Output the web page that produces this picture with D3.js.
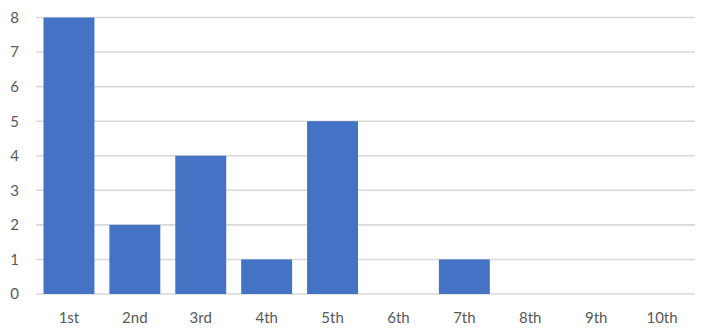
<!DOCTYPE html>
<html><head><meta charset="utf-8">
<script src="https://cdn.jsdelivr.net/npm/d3@7"></script>
<style>body{margin:0;background:#fff}</style>
</head><body>
<script>
const categories = ["1st","2nd","3rd","4th","5th","6th","7th","8th","9th","10th"];
const values = [8,2,4,1,5,0,1,0,0,0];
const yTicks = [0,1,2,3,4,5,6,7,8];

const W = 702, H = 334;
const m = {left: 36, right: 7, top: 17.5, bottom: 40};
const svg = d3.select("body").append("svg").attr("width", W).attr("height", H);
const x = d3.scaleBand().domain(categories).range([m.left, W - m.right]).paddingInner(0.227).paddingOuter(0.1135);
const y = d3.scaleLinear().domain([0, 8]).range([H - m.bottom, m.top]);

const font = "Lato, 'Open Sans', sans-serif";
svg.append("g").selectAll("line").data(yTicks).join("line")
  .attr("x1", m.left).attr("x2", W - m.right)
  .attr("y1", d => y(d)).attr("y2", d => y(d))
  .attr("stroke", "#d9d9d9").attr("stroke-width", 1.6);

svg.append("g").selectAll("rect").data(values).join("rect")
  .attr("x", (d, i) => x(categories[i])).attr("width", x.bandwidth())
  .attr("y", d => y(d)).attr("height", d => y(0) - y(d))
  .attr("fill", "#4472C4");

const ya = d3.axisLeft(y).tickValues(yTicks).tickSize(0).tickPadding(17);
svg.append("g").attr("transform", `translate(${m.left},0)`).call(ya)
  .call(g => g.select(".domain").remove())
  .selectAll("text").attr("fill", "#595959").style("font-family", font).style("font-size", "15px");

const xa = d3.axisBottom(x).tickSize(0).tickPadding(18);
svg.append("g").attr("transform", `translate(0,${y(0)})`).call(xa)
  .call(g => g.select(".domain").remove())
  .selectAll("text").attr("fill", "#595959").style("font-family", font).style("font-size", "15px");
</script>
</body></html>
